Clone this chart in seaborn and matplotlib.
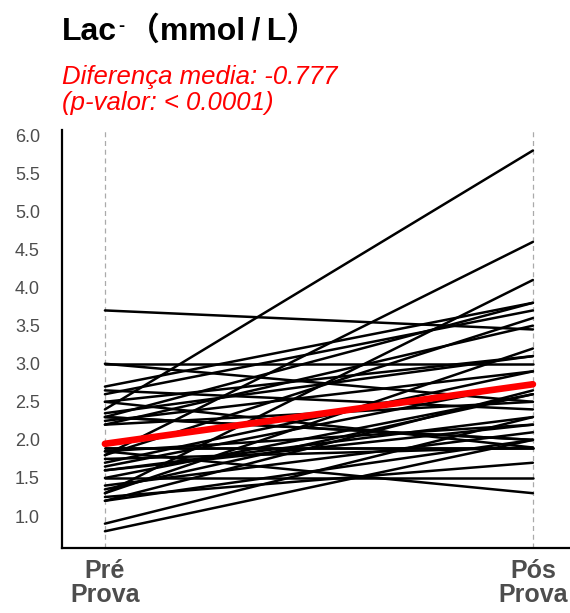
import pandas as pd
import matplotlib
matplotlib.use("Agg")
import matplotlib.pyplot as plt
import seaborn as sns

# Lactate values per athlete, before and after the race
momentos = ["Pré\nProva", "Pós\nProva"]
pre = [3.7, 3.0, 3.0, 2.7, 2.65, 2.6, 2.5, 2.4, 1.8, 1.3,
       2.3, 1.8, 2.2, 1.3, 2.35, 1.7, 2.25, 2.3, 1.5, 2.2,
       1.9, 1.6, 1.6, 1.85, 1.4, 2.3, 1.2, 2.5, 1.75, 1.25,
       0.9, 0.8, 1.5, 1.85, 1.65, 1.2, 1.9, 1.35]
pos = [3.45, 3.0, 2.5, 3.8, 2.4, 3.7, 3.1, 5.8, 4.6, 4.1,
       3.8, 3.6, 3.5, 3.2, 3.1, 2.9, 2.9, 2.0, 2.6, 2.5,
       1.9, 2.3, 2.2, 2.2, 2.1, 2.0, 2.0, 1.9, 1.9, 1.7,
       2.3, 2.0, 1.5, 1.3, 2.75, 2.65, 1.9, 2.6]
yticks = [1.0, 1.5, 2.0, 2.5, 3.0, 3.5, 4.0, 4.5, 5.0, 5.5, 6.0]

n = len(pre)
df = pd.DataFrame({
    "id": list(range(n)) * 2,
    "momento": [1] * n + [2] * n,
    "lac": pre + pos,
})

sns.set_style("white")
plt.rcParams["font.family"] = ["Liberation Sans", "Noto Sans CJK SC", "DejaVu Sans"]

fig = plt.figure(figsize=(5.7, 6.13), dpi=100)
ax = fig.add_axes([0.109, 0.106, 0.901, 0.682])

# individual lines
sns.lineplot(data=df, x="momento", y="lac", units="id", estimator=None,
             color="black", lw=1.8, ax=ax)
# mean line
sns.lineplot(data=df, x="momento", y="lac", estimator="mean", errorbar=None,
             color="#ff0000", lw=4.8, ax=ax, zorder=5)

ax.set_xlim(0.9, 2.1)
ax.set_ylim(0.58, 6.07)
ax.set_xticks([1, 2])
ax.set_xticklabels(momentos, fontsize=18, fontweight="bold", color="#4d4d4d",
                   linespacing=1.0)
ax.set_yticks(yticks)
ax.set_yticklabels([f"{v:.1f}" for v in yticks], fontsize=13, color="#4d4d4d")
ax.tick_params(axis="x", length=4, width=1, color="#333333", pad=4)
ax.tick_params(axis="y", length=0, pad=16)
ax.set_xlabel("")
ax.set_ylabel("")

ax.xaxis.grid(True, linestyle=(0, (4, 3)), color="#aaaaaa", lw=0.9)
ax.yaxis.grid(False)
for side in ["top", "right"]:
    ax.spines[side].set_visible(False)
for side in ["left", "bottom"]:
    ax.spines[side].set_color("black")
    ax.spines[side].set_linewidth(1.6)

# title pieces: "Lac", superscript minus, unit
t1 = fig.text(0.109, 0.948, "Lac", fontsize=23, fontweight="bold",
              color="black", va="center", ha="left")
ax.annotate("-", xy=(1.0, 1.0), xycoords=t1, xytext=(1, -1),
            textcoords="offset points", fontsize=13, fontweight="bold",
            color="black", va="top", ha="left", annotation_clip=False)
ax.annotate("（mmol\u2009/\u2009L）", xy=(1.0, 0.5), xycoords=t1,
            xytext=(8, 0), textcoords="offset points", fontsize=23,
            fontweight="bold", color="black", va="center", ha="left",
            annotation_clip=False)

fig.text(0.109, 0.853, "Diferença media: -0.777\n(p-valor: < 0.0001)",
         fontsize=18.5, style="italic", color="#ff0000", va="center", ha="left",
         linespacing=1.1)

plt.savefig("out.png", dpi=100)
